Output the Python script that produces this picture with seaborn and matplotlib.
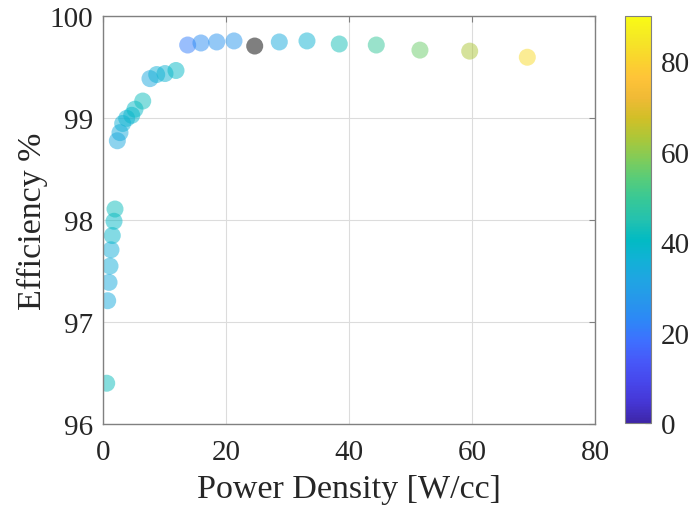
import numpy as np
import pandas as pd
import seaborn as sns
import matplotlib.pyplot as plt
from matplotlib.colors import LinearSegmentedColormap, Normalize
from matplotlib.cm import ScalarMappable

# data
power_density = [0.6, 0.76, 0.98, 1.14, 1.30, 1.51, 1.79, 1.95,
                 2.33, 2.76, 3.20, 3.85, 4.67, 5.20, 6.46,
                 7.64, 8.73, 10.08, 11.87,
                 13.77, 15.93, 18.49, 21.30, 28.67, 33.17, 38.42,
                 44.44, 51.54, 59.63, 69.0]
efficiency = [96.40, 97.21, 97.39, 97.55, 97.71, 97.85, 97.99, 98.11,
              98.78, 98.86, 98.95, 99.00, 99.03, 99.09, 99.17,
              99.39, 99.43, 99.44, 99.47,
              99.72, 99.74, 99.75, 99.76, 99.75, 99.76, 99.73,
              99.72, 99.67, 99.66, 99.60]
color_value = [42, 34, 34, 35, 35, 39, 40, 42,
               33, 34, 36, 37, 38, 40, 42,
               33, 36, 37, 40,
               21, 24, 26, 27, 34, 37, 43,
               49, 56, 63, 82]
# point without a colour value (drawn grey)
nan_x = [24.67]
nan_y = [99.71]

df = pd.DataFrame({'x': power_density, 'y': efficiency, 'c': color_value})

# MATLAB parula, sampled
parula_pts = [
    (0.2422, 0.1504, 0.6603), (0.2706, 0.2147, 0.8364), (0.2803, 0.2782, 0.9221),
    (0.2795, 0.3447, 0.9717), (0.2440, 0.4358, 0.9988), (0.1786, 0.5289, 0.9682),
    (0.1540, 0.5902, 0.9218), (0.1248, 0.6459, 0.8883), (0.0689, 0.6948, 0.8394),
    (0.0067, 0.7312, 0.7660), (0.1408, 0.7584, 0.6842), (0.2161, 0.7843, 0.5923),
    (0.3406, 0.8008, 0.4789), (0.5044, 0.7993, 0.3480), (0.6720, 0.7793, 0.2227),
    (0.8203, 0.7498, 0.1535), (0.9393, 0.7288, 0.2100), (0.9970, 0.7659, 0.2199),
    (0.9786, 0.8386, 0.1766), (0.9597, 0.9135, 0.1423), (0.9769, 0.9839, 0.0805)]
parula = LinearSegmentedColormap.from_list('parula', parula_pts)

sns.set_style('white')
plt.rcParams['font.family'] = ['Liberation Serif', 'DejaVu Serif']

fig = plt.figure(figsize=(6.89, 5.10), dpi=100)
ax = fig.add_axes([0.1495, 0.1667, 0.714, 0.799])
cax = fig.add_axes([0.907, 0.1686, 0.0377, 0.798])

sns.scatterplot(data=df, x='x', y='y', hue='c', palette=parula, hue_norm=(0, 90),
                s=150, alpha=0.5, edgecolor='none', legend=False, ax=ax)
ax.scatter(nan_x, nan_y, s=150, color='black', alpha=0.5, edgecolors='none')

ax.set_xlim(0, 80)
ax.set_ylim(96, 100)
ax.set_xticks([0, 20, 40, 60, 80])
ax.set_yticks([96, 97, 98, 99, 100])
ax.grid(True, color='#dcdcdc', linewidth=0.8)
ax.set_axisbelow(True)
for sp in ax.spines.values():
    sp.set_color('#808080')
    sp.set_linewidth(1.0)
ax.tick_params(direction='in', length=4, color='#808080', labelsize=21,
               labelcolor='#262626', top=True, right=True, pad=7)
ax.tick_params(axis='x', pad=11)
ax.set_xlabel('Power Density [W/cc]', fontsize=24.5, color='#262626', labelpad=6)
ax.set_ylabel('Efficiency %', fontsize=24.5, color='#262626', labelpad=1)

cb = fig.colorbar(ScalarMappable(norm=Normalize(0, 90), cmap=parula), cax=cax)
cb.set_ticks([0, 20, 40, 60, 80])
cb.outline.set_edgecolor('#808080')
cax.tick_params(direction='in', length=4, color='#404040', labelsize=21,
                labelcolor='#262626', pad=7)

fig.savefig('out.png', dpi=100)
